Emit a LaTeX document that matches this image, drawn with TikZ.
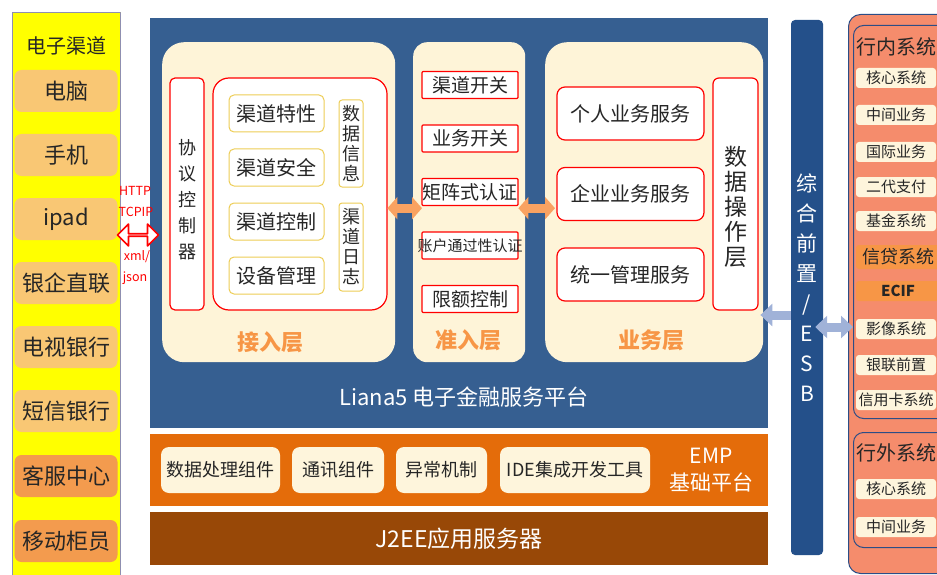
\documentclass[tikz,border=0pt]{standalone}
\usepackage{fontspec}
\setmainfont{Noto Sans CJK SC}
\usetikzlibrary{arrows.meta,shapes.arrows}
\definecolor{chanyel}{HTML}{FFFF00}
\definecolor{chanedge}{HTML}{8F8FB0}
\definecolor{chanlt}{HTML}{F9C774}
\definecolor{chandk}{HTML}{F39B4E}
\definecolor{lianablue}{HTML}{365F91}
\definecolor{cream}{HTML}{FEF4D8}
\definecolor{layerorg}{HTML}{F79646}
\definecolor{goldedge}{HTML}{EDCD55}
\definecolor{emporg}{HTML}{E46C0A}
\definecolor{jbrown}{HTML}{984807}
\definecolor{esbblue}{HTML}{24508A}
\definecolor{salmon}{HTML}{F58C6C}
\definecolor{sysedge}{HTML}{2C4D86}
\definecolor{syscream}{HTML}{FEF5DC}
\definecolor{lightarr}{HTML}{A0B2D8}
\definecolor{fatorg}{HTML}{F9A261}

\begin{document}
\begin{tikzpicture}[x=1pt,y=-1pt,line join=round,
  every node/.style={inner sep=0pt,text=black!85},
  chanbox/.style={fill=chanlt,rounded corners=7pt,minimum width=103pt,minimum height=42pt,font=\fontsize{22}{24}\selectfont},
  panel/.style={fill=cream,rounded corners=22pt,anchor=north west,minimum height=320pt},
  redbox/.style={draw=red,fill=white,line width=1.2pt},
  goldbox/.style={draw=goldedge,fill=white,line width=1pt,rounded corners=5pt,minimum width=95pt,minimum height=37pt,font=\fontsize{20}{22}\selectfont},
  vtxt/.style={align=center,font=\fontsize{18}{20}\selectfont},
  layer/.style={text=layerorg,font=\fontsize{22}{24}\selectfont\bfseries},
  gatebox/.style={redbox,rounded corners=1pt,minimum width=96pt,minimum height=27pt,font=\fontsize{19}{21}\selectfont},
  svcbox/.style={redbox,rounded corners=8pt,minimum width=147pt,minimum height=53pt,font=\fontsize{20}{22}\selectfont},
  empbox/.style={fill=syscream,rounded corners=8pt,minimum height=46pt,font=\fontsize{18}{20}\selectfont},
  sysbox/.style={fill=syscream,rounded corners=3pt,minimum width=80pt,minimum height=20pt,font=\fontsize{15}{17}\selectfont},
  fatarr/.style={draw=fatorg,line width=9pt,{Triangle[length=10pt,width=22pt]}-{Triangle[length=10pt,width=22pt]}},
  bluearr/.style={draw=lightarr,line width=9pt},
  proto/.style={text=red,font=\fontsize{12.5}{14}\selectfont}]
\useasboundingbox (0,0) rectangle (937,575);
\clip (0,0) rectangle (937,575);
\fill[white] (0,0) rectangle (937,575);

\node[draw=chanedge,fill=chanyel,line width=1pt,anchor=north west,minimum width=108pt,minimum height=575pt] (chan) at (12,12) {};
\node[font=\fontsize{20}{22}\selectfont] (chantitle) at (66,46) {电子渠道};
\foreach \n/\t [count=\i] in {pc/电脑,phone/手机,pad/ipad,bank/银企直联,tv/电视银行,sms/短信银行}
  \node[chanbox] (\n) at (66,{91+64*(\i-1)}) {\t};
\node[chanbox,fill=chandk] (call) at (66,476) {客服中心};
\node[chanbox,fill=chandk] (teller) at (66,541) {移动柜员};

\node[fill=lianablue,anchor=north west,minimum width=618pt,minimum height=410pt] (liana) at (150,18) {};
\node[text=white,font=\fontsize{22}{24}\selectfont] (lianatitle) at (464,397) {Liana5 电子金融服务平台};
\node[panel,minimum width=233pt] (acc) at (162,42) {};
\node[panel,minimum width=112pt,rounded corners=14pt] (adm) at (413,42) {};
\node[panel,minimum width=218pt] (biz) at (545,42) {};

\node[redbox,rounded corners=5pt,minimum width=34pt,minimum height=232pt] (ctrl) at (187,194) {};
\node[vtxt,font=\fontsize{18}{26}\selectfont] (ctrltxt) at (187,200) {协\\议\\控\\制\\器};
\node[redbox,rounded corners=16pt,minimum width=174pt,minimum height=232pt] (core) at (300,194) {};
\foreach \n/\t [count=\i] in {feat/渠道特性,sec/渠道安全,cctl/渠道控制,dev/设备管理}
  \node[goldbox] (\n) at (276.5,{113.5+54*(\i-1)}) {\t};
\node[goldbox,vtxt,minimum width=24pt,minimum height=87pt,rounded corners=3pt] (info) at (351,143.5) {数\\据\\信\\息};
\node[goldbox,vtxt,minimum width=24pt,minimum height=88pt,rounded corners=3pt] (log) at (351,247) {渠\\道\\日\\志};
\node[layer] (acclbl) at (270,342) {接入层};

\foreach \n/\t [count=\i] in {chsw/渠道开关,bizsw/业务开关,matrix/矩阵式认证}
  \node[gatebox] (\n) at (470,{85+53.5*(\i-1)}) {\t};
\node[gatebox] (acct) at (470,245.5) {\makebox[0pt]{\fontsize{15}{17}\selectfont 账户通过性认证}};
\node[gatebox] (limit) at (470,299) {限额控制};
\node[layer] (admlbl) at (468,340) {准入层};

\foreach \n/\t [count=\i] in {personal/个人业务服务,corp/企业业务服务,unify/统一管理服务}
  \node[svcbox] (\n) at (630.5,{113.5+80.5*(\i-1)}) {\t};
\node[redbox,rounded corners=6pt,minimum width=45pt,minimum height=232pt] (dataop) at (735.5,194) {};
\node[vtxt,font=\fontsize{23}{25}\selectfont] (dataoptxt) at (735.5,207) {数\\据\\操\\作\\层};
\node[layer] (bizlbl) at (651,340) {业务层};

\draw[fatarr] ([xshift=-8pt,yshift=-6pt]acc.east) -- ([xshift=9pt,yshift=-6pt]adm.west);
\draw[fatarr] ([xshift=-7pt,yshift=-6pt]adm.east) -- ([xshift=10pt,yshift=-6pt]biz.west);

\node[fill=emporg,anchor=north west,minimum width=618pt,minimum height=72pt] (emp) at (150,434) {};
\node[empbox,minimum width=119pt] (dataproc) at (220.5,470) {数据处理组件};
\node[empbox,minimum width=92pt] (comm) at (338,470) {通讯组件};
\node[empbox,minimum width=91pt] (except) at (441.5,470) {异常机制};
\node[empbox,minimum width=150pt] (ide) at (575,470) {IDE集成开发工具};
\node[align=center,text=white,font=\fontsize{21}{27}\selectfont] (emptxt) at (711,470) {EMP\\基础平台};

\node[fill=jbrown,anchor=north west,minimum width=618pt,minimum height=53pt,text=white,font=\fontsize{23}{25}\selectfont] (j2ee) at (150,512) {J2EE应用服务器};

\node[fill=esbblue,rounded corners=4pt,minimum width=32pt,minimum height=535pt] (esb) at (807,287.5) {};
\node[align=center,text=white,font=\fontsize{21}{30}\selectfont] (esbtxt) at (esb) {综\\合\\前\\置\\/\\E\\S\\B};

\node[draw=sysedge,fill=salmon,rounded corners=12pt,line width=1pt,anchor=north west,minimum width=120pt,minimum height=559pt] (sys) at (848,14) {};
\node[draw=sysedge,rounded corners=10pt,line width=1pt,anchor=north west,minimum width=110pt,minimum height=393pt] (insys) at (853,25) {};
\node[draw=sysedge,rounded corners=10pt,line width=1pt,anchor=north west,minimum width=110pt,minimum height=115pt] (outsys) at (853,432) {};
\node[font=\fontsize{20}{22}\selectfont] (intitle) at (896,47) {行内系统};
\node[font=\fontsize{20}{22}\selectfont] (outtitle) at (896,453) {行外系统};
\foreach \n/\t/\y in {hcore/核心系统/78,hmid/中间业务/115,hintl/国际业务/152,hcnaps/二代支付/187,hfund/基金系统/221,himg/影像系统/329,hunion/银联前置/365,hcard/信用卡系统/400,xcore/核心系统/489,xmid/中间业务/527}
  \node[sysbox] (\n) at (896,\y) {\t};
\node[sysbox,fill=layerorg,minimum width=84pt,minimum height=24pt,font=\fontsize{18}{20}\selectfont] (hloan) at (898,257) {信贷系统};
\node[sysbox,fill=layerorg,minimum width=84pt,font=\fontsize{15}{17}\selectfont\bfseries] (ecif) at (898,291) {ECIF};

\node[double arrow,draw=red,fill=white,line width=1.6pt,minimum height=41pt,minimum width=22pt,double arrow head extend=6pt] (link) at (138,235) {};
\node[proto] (http) at (135,191) {HTTP};
\node[proto] (tcpip) at (136,212) {TCPIP};
\node[proto] (xml) at (137,257) {xml/};
\node[proto] (json) at (135,278) {json};

\draw[bluearr,-{Triangle[length=12pt,width=22pt]}] (esb.west |- 0,315) -- ([xshift=-3pt]biz.east |- 0,315);
\draw[bluearr,{Triangle[length=12pt,width=22pt]}-{Triangle[length=12pt,width=22pt]}] ([xshift=-8pt]esb.east |- 0,327) -- (insys.west |- 0,327);
\end{tikzpicture}
\end{document}
